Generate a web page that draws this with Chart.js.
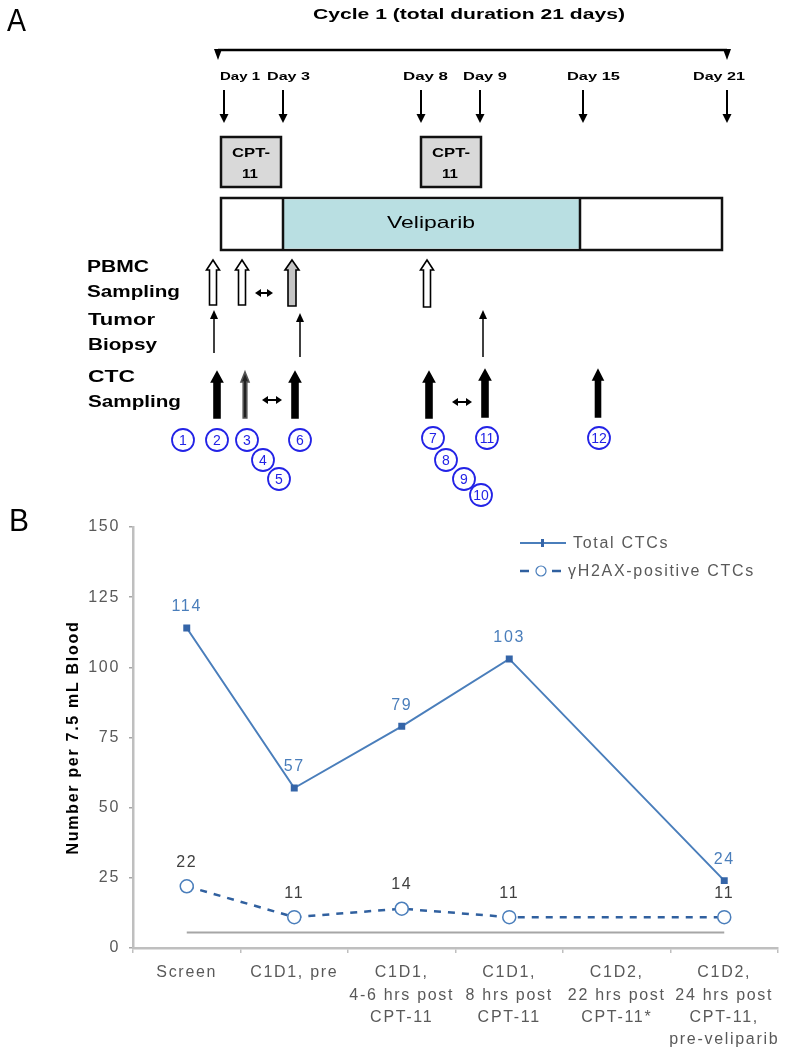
<!DOCTYPE html>
<html>
<head>
<meta charset="utf-8">
<script src="https://cdn.jsdelivr.net/npm/chart.js@4"></script>
<style>
  html, body { margin: 0; padding: 0; background: #fff; }
  #page { position: relative; width: 786px; height: 1050px; overflow: hidden; }
  #schema { position: absolute; left: 0; top: 0; }
  #chartBox { position: absolute; left: 0; top: 495px; width: 786px; height: 555px; }
</style>
</head>
<body>
<div id="page">
  <div id="chartBox"><canvas id="ctcChart"></canvas></div>
  <svg id="schema" width="786" height="540" xmlns="http://www.w3.org/2000/svg"></svg>
</div>
<script>
// -- Data (panel B) --
const categories = [
    'Screen',
    'C1D1, pre',
    ['C1D1,', '4-6 hrs post', 'CPT-11'],
    ['C1D1,', '8 hrs post', 'CPT-11'],
    ['C1D2,', '22 hrs post', 'CPT-11*'],
    ['C1D2,', '24 hrs post', 'CPT-11,', 'pre-veliparib']
];
const totalCTCs = [114, 57, 79, 103, null, 24];
const h2axCTCs = [22, 11, 14, 11, null, 11];
const referenceLevel = [5.5, 5.5, 5.5, 5.5, 5.5, 5.5];
const yMin = 0;
const yMax = 150;
const yStep = 25;

const FONT = '"Liberation Sans", Arial, sans-serif';
const SVGNS = 'http://www.w3.org/2000/svg';

// -- Panel A: schematic drawn as SVG --
const svg = document.getElementById('schema');

function el(tag, attrs, text) {
    const node = document.createElementNS(SVGNS, tag);
    for (const k in attrs) node.setAttribute(k, attrs[k]);
    if (text !== undefined) node.textContent = text;
    svg.appendChild(node);
    return node;
}

function label(str, x, y, size, opts = {}) {
    const a = {
        x: x, y: y, 'font-family': FONT, 'font-size': size,
        'font-weight': opts.bold ? 'bold' : 'normal', fill: opts.color || '#000'
    };
    if (opts.width) { a.textLength = opts.width; a.lengthAdjust = 'spacingAndGlyphs'; }
    if (opts.anchor) a['text-anchor'] = opts.anchor;
    return el('text', a, str);
}

function downArrow(x, y1, y2) {
    el('line', { x1: x, y1: y1, x2: x, y2: y2 - 8, stroke: '#000', 'stroke-width': 2 });
    el('polygon', { points: `${x - 4.5},${y2 - 9} ${x + 4.5},${y2 - 9} ${x},${y2}`, fill: '#000' });
}

function thinUpArrow(x, top, bottom) {
    el('line', { x1: x, y1: top + 8, x2: x, y2: bottom, stroke: '#000', 'stroke-width': 1.5 });
    el('polygon', { points: `${x - 4},${top + 9} ${x + 4},${top + 9} ${x},${top}`, fill: '#000' });
}

function blockArrow(x, top, bottom, shaft, head, fill, stroke) {
    const hh = 10;
    const pts = [
        [x, top], [x + head, top + hh], [x + shaft, top + hh], [x + shaft, bottom],
        [x - shaft, bottom], [x - shaft, top + hh], [x - head, top + hh]
    ].map(p => p.join(',')).join(' ');
    el('polygon', { points: pts, fill: fill, stroke: stroke, 'stroke-width': 1.6, 'stroke-linejoin': 'miter' });
}

function doubleArrow(x1, x2, y) {
    el('line', { x1: x1 + 4, y1: y, x2: x2 - 4, y2: y, stroke: '#000', 'stroke-width': 2 });
    el('polygon', { points: `${x1},${y} ${x1 + 6},${y - 4} ${x1 + 6},${y + 4}`, fill: '#000' });
    el('polygon', { points: `${x2},${y} ${x2 - 6},${y - 4} ${x2 - 6},${y + 4}`, fill: '#000' });
}

function numberCircle(n, cx, cy) {
    el('circle', { cx: cx, cy: cy, r: 11, fill: '#fff', stroke: '#2323e6', 'stroke-width': 1.8 });
    label(String(n), cx, cy + 5, 14, { anchor: 'middle', color: '#2323e6' });
}

// panel letters and title
label('A', 7, 31, 31, { width: 19 });
label('B', 9, 531, 31, { width: 20 });
label('Cycle 1 (total duration 21 days)', 313, 19, 15, { bold: true, width: 312 });

// cycle bracket
el('line', { x1: 218, y1: 50, x2: 727, y2: 50, stroke: '#000', 'stroke-width': 2.5 });
el('polygon', { points: '214,49 222,49 218,60', fill: '#000' });
el('polygon', { points: '723,49 731,49 727,60', fill: '#000' });

// day labels and arrows
const dayMarks = [
    ['Day 1', 220, 40, 224], ['Day 3', 267, 43, 283], ['Day 8', 403, 45, 421],
    ['Day 9', 463, 44, 480], ['Day 15', 567, 53, 583], ['Day 21', 693, 52, 727]
];
dayMarks.forEach(([t, x, w, ax]) => {
    label(t, x, 80, 11.5, { bold: true, width: w });
    downArrow(ax, 90, 123);
});

// CPT-11 boxes
[221, 421].forEach(x => {
    el('rect', { x: x, y: 137, width: 60, height: 50, fill: '#d9d9d9', stroke: '#111', 'stroke-width': 2.5 });
    label('CPT-', x + 11, 157, 13, { bold: true, width: 38 });
    label('11', x + 21, 178, 13, { bold: true, width: 16 });
});

// Veliparib bar
el('rect', { x: 221, y: 198, width: 501, height: 52, fill: '#fff', stroke: '#111', 'stroke-width': 2.5 });
el('rect', { x: 283, y: 199.5, width: 297, height: 49, fill: '#b9dfe2', stroke: 'none' });
el('line', { x1: 283, y1: 198, x2: 283, y2: 250, stroke: '#111', 'stroke-width': 2.5 });
el('line', { x1: 580, y1: 198, x2: 580, y2: 250, stroke: '#111', 'stroke-width': 2.5 });
label('Veliparib', 387, 228, 17, { width: 88 });

// row labels
label('PBMC', 87, 272, 16, { bold: true, width: 62 });
label('Sampling', 87, 297, 16, { bold: true, width: 93 });
label('Tumor', 88, 325, 16, { bold: true, width: 67 });
label('Biopsy', 88, 350, 16, { bold: true, width: 69 });
label('CTC', 88, 382, 16, { bold: true, width: 47 });
label('Sampling', 88, 407, 16, { bold: true, width: 93 });

// PBMC sampling (hollow block arrows)
blockArrow(213, 260, 305, 3.5, 6.5, '#fff', '#000');
blockArrow(242, 260, 305, 3.5, 6.5, '#fff', '#000');
blockArrow(292, 260, 306, 4, 7, '#c4c4c4', '#000');
blockArrow(427, 260, 307, 3.5, 6.5, '#fff', '#000');
doubleArrow(255, 273, 293);

// tumor biopsy
thinUpArrow(214, 310, 353);
thinUpArrow(300, 313, 357);
thinUpArrow(483, 310, 357);

// CTC sampling (solid arrows)
blockArrow(217, 372, 418, 3, 5.5, '#000', '#000');
blockArrow(245, 372, 418, 1.8, 4, '#222', '#555');
blockArrow(295, 372, 418, 3, 5.5, '#000', '#000');
blockArrow(429, 372, 418, 3, 5.5, '#000', '#000');
blockArrow(485, 370, 417, 3, 5.5, '#000', '#000');
blockArrow(598, 370, 417, 2.5, 5, '#000', '#000');
doubleArrow(262, 282, 400);
doubleArrow(452, 472, 402);

// sample numbers
[[1, 183, 440], [2, 217, 440], [3, 247, 440], [4, 263, 460], [5, 279, 479], [6, 300, 440],
 [7, 433, 438], [8, 446, 460], [9, 464, 479], [10, 481, 495], [11, 487, 438], [12, 599, 438]]
    .forEach(([n, x, y]) => numberCircle(n, x, y));

// -- Panel B: Chart.js --
const valueLabels = {
    id: 'valueLabels',
    beforeDraw(chart) {
        chart.ctx.letterSpacing = '1.7px';
    },
    afterDatasetsDraw(chart) {
        const ctx = chart.ctx;
        ctx.save();
        ctx.font = '16px ' + FONT;
        ctx.textAlign = 'center';
        ctx.textBaseline = 'middle';
        chart.data.datasets.forEach((ds, i) => {
            if (!ds.valueColor) return;
            chart.getDatasetMeta(i).data.forEach((pt, j) => {
                const v = ds.data[j];
                if (v === null || v === undefined) return;
                ctx.fillStyle = ds.valueColor;
                ctx.fillText(String(v), pt.x, pt.y - ds.valueOffset);
            });
        });
        ctx.restore();
    }
};

// legend drawn in the top-right corner of the plot
const cornerLegend = {
    id: 'cornerLegend',
    afterDraw(chart) {
        const ctx = chart.ctx;
        const area = chart.chartArea;
        const x0 = area.right - 258;
        ctx.save();
        ctx.font = '16px ' + FONT;
        ctx.textBaseline = 'middle';
        ctx.fillStyle = '#595959';

        const total = chart.data.datasets[0];
        let y = area.top + 16;
        ctx.strokeStyle = total.borderColor;
        ctx.lineWidth = total.borderWidth;
        ctx.beginPath(); ctx.moveTo(x0, y); ctx.lineTo(x0 + 46, y); ctx.stroke();
        ctx.fillStyle = total.pointBackgroundColor;
        ctx.fillRect(x0 + 21, y - 4, 3, 8);
        ctx.fillStyle = '#595959';
        ctx.fillText(total.label, x0 + 53, y + 1);

        const gam = chart.data.datasets[1];
        y = area.top + 44;
        ctx.strokeStyle = gam.borderColor;
        ctx.lineWidth = gam.borderWidth;
        ctx.beginPath();
        ctx.moveTo(x0, y); ctx.lineTo(x0 + 9, y);
        ctx.moveTo(x0 + 32, y); ctx.lineTo(x0 + 41, y);
        ctx.stroke();
        ctx.beginPath();
        ctx.arc(x0 + 21, y, 5, 0, Math.PI * 2);
        ctx.fillStyle = '#fff';
        ctx.fill();
        ctx.lineWidth = 1.2;
        ctx.strokeStyle = gam.pointBorderColor;
        ctx.stroke();
        ctx.fillStyle = '#595959';
        ctx.fillText(gam.label, x0 + 48, y + 1);
        ctx.restore();
    }
};

const ctcChart = new Chart(document.getElementById('ctcChart'), {
    type: 'line',
    data: {
        labels: categories,
        datasets: [
            {
                label: 'Total CTCs',
                data: totalCTCs,
                borderColor: '#4a7ebb',
                borderWidth: 2,
                pointStyle: 'rect',
                pointRadius: 3.5,
                pointBackgroundColor: '#3565a8',
                pointBorderColor: '#3565a8',
                spanGaps: true,
                tension: 0,
                valueColor: '#4a7ebb',
                valueOffset: 21
            },
            {
                label: '\u03b3H2AX-positive CTCs',
                data: h2axCTCs,
                borderColor: '#30609f',
                borderWidth: 2.5,
                borderDash: [7, 7],
                pointStyle: 'circle',
                pointRadius: 6.5,
                pointBackgroundColor: '#ffffff',
                pointBorderColor: '#4a7ebb',
                pointBorderWidth: 1.5,
                spanGaps: true,
                tension: 0,
                valueColor: '#404040',
                valueOffset: 24
            },
            {
                label: 'reference',
                data: referenceLevel,
                borderColor: '#a6a6a6',
                borderWidth: 2,
                pointRadius: 0,
                tension: 0
            }
        ]
    },
    options: {
        responsive: true,
        maintainAspectRatio: false,
        animation: false,
        layout: { padding: { top: 32, right: 6, left: 0, bottom: 0 } },
        plugins: {
            legend: { display: false },
            tooltip: { enabled: false }
        },
        scales: {
            x: {
                offset: true,
                afterFit(scale) { scale.height = 102; },
                border: { color: '#bfbfbf', width: 2.5 },
                grid: { display: true, drawOnChartArea: false, offset: true, tickLength: 5, color: '#bfbfbf', lineWidth: 1.5 },
                ticks: {
                    autoSkip: false,
                    maxRotation: 0,
                    padding: 9,
                    color: '#595959',
                    font: { family: FONT, size: 16, lineHeight: 1.38 }
                }
            },
            y: {
                min: yMin,
                max: yMax,
                afterFit(scale) { scale.width = 133; },
                border: { color: '#bfbfbf', width: 2.5 },
                grid: { display: true, drawOnChartArea: false, tickLength: 4, color: '#a6a6a6', lineWidth: 1.5 },
                ticks: {
                    stepSize: yStep,
                    padding: 9,
                    color: '#595959',
                    font: { family: FONT, size: 16 }
                },
                title: {
                    display: true,
                    text: 'Number per 7.5 mL Blood',
                    color: '#000',
                    font: { family: FONT, size: 16, weight: 'bold' },
                    padding: { top: 64, bottom: 0 }
                }
            }
        }
    },
    plugins: [valueLabels, cornerLegend]
});
</script>
</body>
</html>
